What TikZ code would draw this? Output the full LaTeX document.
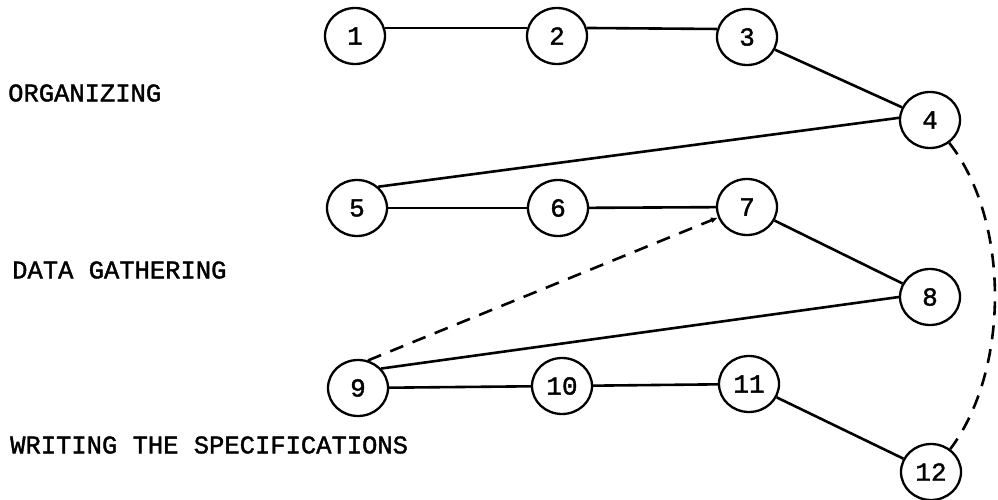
\documentclass[tikz,border=0pt]{standalone}
\usepackage{fontspec}
\setmonofont{Liberation Mono}[FakeBold=1.5]
\usetikzlibrary{shapes.geometric,arrows.meta}

\tikzset{
  stage/.style={ellipse, draw, line width=2.3pt, minimum width=60pt, minimum height=56pt,
    inner sep=0pt, font=\ttfamily\fontsize{26}{26}\selectfont},
  phase/.style={anchor=west, inner sep=0pt, font=\ttfamily\fontsize{25.5}{25.5}\selectfont},
  link/.style={line width=2.6pt},
  loop/.style={line width=2.6pt, dash pattern=on 14pt off 10pt},
}

\begin{document}
\begin{tikzpicture}[x=1pt, y=-1pt]
  \useasboundingbox (0,0) rectangle (998,500);

  % phase captions
  \node[phase] (org)  at (8,93)   {ORGANIZING};
  \node[phase] (data) at (12,270) {DATA GATHERING};
  \node[phase] (spec) at (10,445) {WRITING THE SPECIFICATIONS};

  % activity nodes
  \node[stage] (n1)  at (355,36)  {1};
  \node[stage] (n2)  at (557,36)  {2};
  \node[stage] (n3)  at (747,37)  {3};
  \node[stage] (n4)  at (930,120) {4};
  \node[stage] (n5)  at (357,208) {5};
  \node[stage] (n6)  at (558,208) {6};
  \node[stage] (n7)  at (747,207) {7};
  \node[stage] (n8)  at (930,297) {8};
  \node[stage] (n9)  at (358,388) {9};
  \node[stage] (n10) at (562,386) {10};
  \node[stage] (n11) at (749,384) {11};
  \node[stage] (n12) at (931,472) {12};

  % sequence within and between phases
  \draw[link] (n1.15) -- (n2.165);
  \draw[link] (n2.15) -- (n3.165);
  \draw[link] (n3) -- (n4);
  \draw[link] (n4.176) -- (n5.45);
  \draw[link] (n5) -- (n6);
  \draw[link] (n6) -- (n7);
  \draw[link] (n7) -- (n8);
  \draw[link] (n8.180) -- (n9.40);
  \draw[link] (n9) -- (n10);
  \draw[link] (n10) -- (n11);
  \draw[link] (n11) -- (n12);

  % feedback paths
  \draw[loop, -{Latex[length=7pt,width=6pt]}] (n9.70) -- (n7.200);
  \draw[loop] (n4.-50) .. controls (1010,220) and (1010,370) .. (n12.50);
\end{tikzpicture}
\end{document}
